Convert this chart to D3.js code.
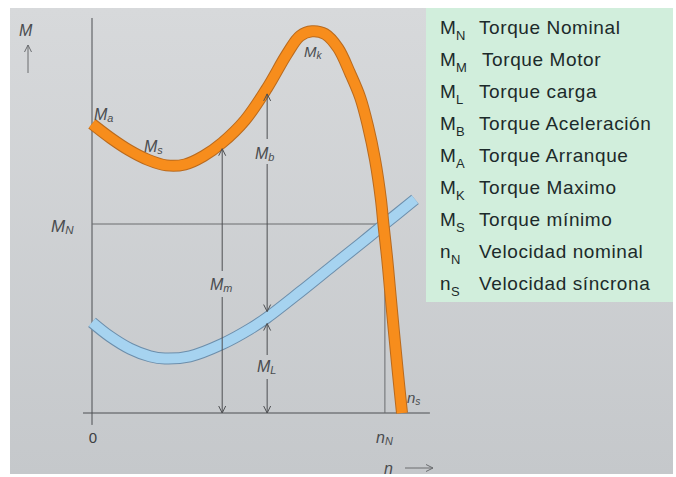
<!DOCTYPE html>
<html>
<head>
<meta charset="utf-8">
<script src="https://cdn.jsdelivr.net/npm/d3@7"></script>
<style>
  html, body { margin: 0; padding: 0; background: #ffffff; }
  svg { display: block; }
</style>
</head>
<body>
<svg id="chart" width="676" height="477"></svg>
<script>
// Motor torque characteristic (percent of nominal torque vs. percent of synchronous speed)
const motorSpeed  = [0, 6, 12, 18, 24, 30, 36, 42, 49.4, 56.5, 62.9, 67.1, 71, 75.2, 79.4, 83.2, 86.5, 89, 91.3, 93.2, 94, 95.2, 96.1, 97.4, 98.7, 100];
const motorTorque = [153, 145.5, 139, 134, 131, 131.5, 136, 143, 155, 172, 190, 199.5, 202, 200.5, 193, 180, 167, 152, 134, 113, 100, 82, 66, 43, 21, 0];

// Load torque characteristic
const loadSpeed  = [0, 5.8, 12.3, 18.7, 23.5, 31.6, 42, 51, 56.5, 67.1, 77.7, 86.5, 94, 104.2];
const loadTorque = [48, 40.5, 34, 30, 28.8, 30, 36.5, 44.5, 50.5, 64, 78, 89.5, 99.5, 113];

// Reference values
const nominalTorque = 100;
const nominalSpeed = 94;
const motorArrowSpeed = 42;   // M_m marker
const accelArrowSpeed = 56.5; // M_b / M_L markers

// Legend entries
const legendSymbols = ["M", "M", "M", "M", "M", "M", "M", "n", "n"];
const legendSubs    = ["N", "M", "L", "B", "A", "K", "S", "N", "S"];
const legendTexts   = ["Torque Nominal", "Torque Motor", "Torque carga", "Torque Aceleración",
                       "Torque Arranque", "Torque Maximo", "Torque mínimo", "Velocidad nominal", "Velocidad síncrona"];

const svg = d3.select("#chart");

// background panel with a soft vertical shading
const defs = svg.append("defs");
const grad = defs.append("linearGradient").attr("id", "bg").attr("x1", 0).attr("y1", 0).attr("x2", 0).attr("y2", 1);
grad.append("stop").attr("offset", "0%").attr("stop-color", "#d7d9db");
grad.append("stop").attr("offset", "100%").attr("stop-color", "#c5c8cb");
svg.append("rect").attr("x", 10).attr("y", 8).attr("width", 663).attr("height", 466).attr("fill", "url(#bg)");

const x = d3.scaleLinear().domain([0, 100]).range([92, 402]);
const y = d3.scaleLinear().domain([0, 100]).range([413, 224]);

const axisColor = "#4d4f52";
const g = svg.append("g");

// axes
g.append("line").attr("x1", x(0)).attr("x2", x(0)).attr("y1", y(209)).attr("y2", y(-6.3))
  .attr("stroke", axisColor).attr("stroke-width", 1);
g.append("line").attr("x1", x(-2.9)).attr("x2", x(109)).attr("y1", y(0)).attr("y2", y(0))
  .attr("stroke", axisColor).attr("stroke-width", 1);

// nominal torque / nominal speed guide lines
g.append("line").attr("x1", x(0)).attr("x2", x(nominalSpeed)).attr("y1", y(nominalTorque)).attr("y2", y(nominalTorque))
  .attr("stroke", "#6a6c6f").attr("stroke-width", 1);
g.append("line").attr("x1", x(nominalSpeed) + 1.5).attr("x2", x(nominalSpeed) + 1.5).attr("y1", y(nominalTorque)).attr("y2", y(0))
  .attr("stroke", "#6a6c6f").attr("stroke-width", 1);

const line = d3.line().x(d => x(d[0])).y(d => y(d[1])).curve(d3.curveCatmullRom.alpha(0.5));
const motorPts = motorSpeed.map((s, i) => [s, motorTorque[i]]);
const loadPts = loadSpeed.map((s, i) => [s, loadTorque[i]]);

// load curve
g.append("path").attr("d", line(loadPts)).attr("fill", "none")
  .attr("stroke", "#6c8eab").attr("stroke-width", 12).attr("stroke-linecap", "butt");
g.append("path").attr("d", line(loadPts)).attr("fill", "none")
  .attr("stroke", "#a6d3f0").attr("stroke-width", 10).attr("stroke-linecap", "butt");

// motor curve
g.append("path").attr("d", line(motorPts)).attr("fill", "none")
  .attr("stroke", "#b96a1e").attr("stroke-width", 12).attr("stroke-linecap", "butt");
g.append("path").attr("d", line(motorPts)).attr("fill", "none")
  .attr("stroke", "#f78d1c").attr("stroke-width", 10).attr("stroke-linecap", "butt");

// open arrowheads; dir = 1 points up, -1 points down
function head(px, py, dir) {
  g.append("path")
    .attr("d", `M${px - 3.5},${py + 7 * dir} L${px},${py} L${px + 3.5},${py + 7 * dir}`)
    .attr("fill", "none").attr("stroke", axisColor).attr("stroke-width", 1);
}
function seg(px, y1, y2) {
  g.append("line").attr("x1", px).attr("x2", px).attr("y1", y1).attr("y2", y2)
    .attr("stroke", axisColor).attr("stroke-width", 1);
}
const half = 6;

// M_m: from speed axis up to the motor curve
const mIdx = motorSpeed.indexOf(motorArrowSpeed);
const mx = x(motorArrowSpeed);
const mTop = y(motorTorque[mIdx]) + half;
seg(mx, mTop, 271);
seg(mx, 297, y(0));
head(mx, mTop, 1);
head(mx, y(0), -1);

// M_b: from load curve up to motor curve; M_L: from axis to load curve
const aIdxM = motorSpeed.indexOf(accelArrowSpeed);
const aIdxL = loadSpeed.indexOf(accelArrowSpeed);
const ax = x(accelArrowSpeed);
const bTop = y(motorTorque[aIdxM]) + half;
const bBot = y(loadTorque[aIdxL]) - half;
const lTop = y(loadTorque[aIdxL]) + half;
seg(ax, bTop, 139);
seg(ax, 164, bBot);
head(ax, bTop, 1);
head(ax, bBot, -1);
seg(ax, lTop, 355);
seg(ax, 379, y(0));
head(ax, lTop, 1);
head(ax, y(0), -1);

// axis title arrows
g.append("line").attr("x1", 28).attr("x2", 28).attr("y1", 73).attr("y2", 45).attr("stroke", "#6a6c6f");
g.append("path").attr("d", "M24.5,52 L28,45 L31.5,52").attr("fill", "none").attr("stroke", "#6a6c6f");
g.append("line").attr("x1", 405).attr("x2", 433).attr("y1", 468).attr("y2", 468).attr("stroke", "#6a6c6f");
g.append("path").attr("d", "M426,464.5 L433,468 L426,471.5").attr("fill", "none").attr("stroke", "#6a6c6f");

// in-chart labels
const labelFont = "'Liberation Sans', Arial, sans-serif";
function label(px, py, main, sub, size) {
  const t = g.append("text").attr("x", px).attr("y", py)
    .attr("font-family", labelFont).attr("font-size", size).attr("font-style", "italic")
    .attr("fill", "#4a4c4f");
  t.append("tspan").text(main);
  if (sub) t.append("tspan").attr("font-size", size * 0.68).attr("dy", 2).text(sub);
}
label(19, 36, "M", null, 16);
label(51, 232, "M", "N", 17);
label(94, 120, "M", "a", 16);
label(144, 152, "M", "s", 16);
label(304, 57, "M", "k", 15);
label(255, 159, "M", "b", 16);
label(210, 290, "M", "m", 16);
label(257, 372, "M", "L", 16);
label(376, 443, "n", "N", 16);
label(407, 403, "n", "s", 15);
label(384, 474, "n", null, 16);
g.append("text").attr("x", x(0) + 1).attr("y", 443).attr("text-anchor", "middle")
  .attr("font-family", labelFont).attr("font-size", 15).attr("fill", "#3d3f42").text("0");

// legend panel
svg.append("rect").attr("x", 426).attr("y", 8).attr("width", 247).attr("height", 294).attr("fill", "#d1eedc");
const leg = svg.append("g").attr("font-family", labelFont).attr("fill", "#1c2a2a");
legendTexts.forEach((txt, i) => {
  const by = 34 + i * 32;
  leg.append("text").attr("x", 440).attr("y", by).attr("font-size", 19).text(legendSymbols[i]);
  leg.append("text").attr("x", legendSymbols[i] === "M" ? 456 : 451).attr("y", by + 6).attr("font-size", 13).text(legendSubs[i]);
  leg.append("text").attr("x", i === 1 ? 482 : 479).attr("y", by).attr("font-size", 19)
    .attr("letter-spacing", 0.6).text(txt);
});
</script>
</body>
</html>
